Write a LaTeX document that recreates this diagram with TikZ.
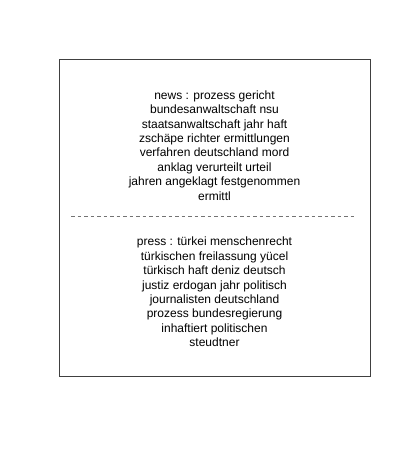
\documentclass[tikz,border=0pt]{standalone}
\usepackage{fontspec}
\setmainfont{Liberation Sans}
\begin{document}
\begin{tikzpicture}[x=1pt,y=1pt,
  txt/.style={align=center,font=\fontsize{12}{14.4}\selectfont,inner sep=0pt,text=black},
  frame/.style={draw=black!75,line width=0.8pt},
  sep/.style={draw=black!55,line width=0.7pt,dash pattern=on 3.5pt off 3pt}]
\useasboundingbox (0,0) rectangle (400,450);
\node[frame,minimum width=311,minimum height=317,inner sep=0pt] (box) at (214.5,232.5) {};
\coordinate (sl) at (71,234);
\coordinate (sr) at (354,234);
\draw[sep] (sl) -- (sr);
\node[txt] (news) at (214.5,304.5) {news : prozess gericht\\bundesanwaltschaft nsu\\staatsanwaltschaft jahr haft\\zschäpe richter ermittlungen\\verfahren deutschland mord\\anklag verurteilt urteil\\jahren angeklagt festgenommen\\ermittl};
\node[txt] (press) at (214.5,158) {press : türkei menschenrecht\\türkischen freilassung yücel\\türkisch haft deniz deutsch\\justiz erdogan jahr politisch\\journalisten deutschland\\prozess bundesregierung\\inhaftiert politischen\\steudtner};
\end{tikzpicture}
\end{document}
